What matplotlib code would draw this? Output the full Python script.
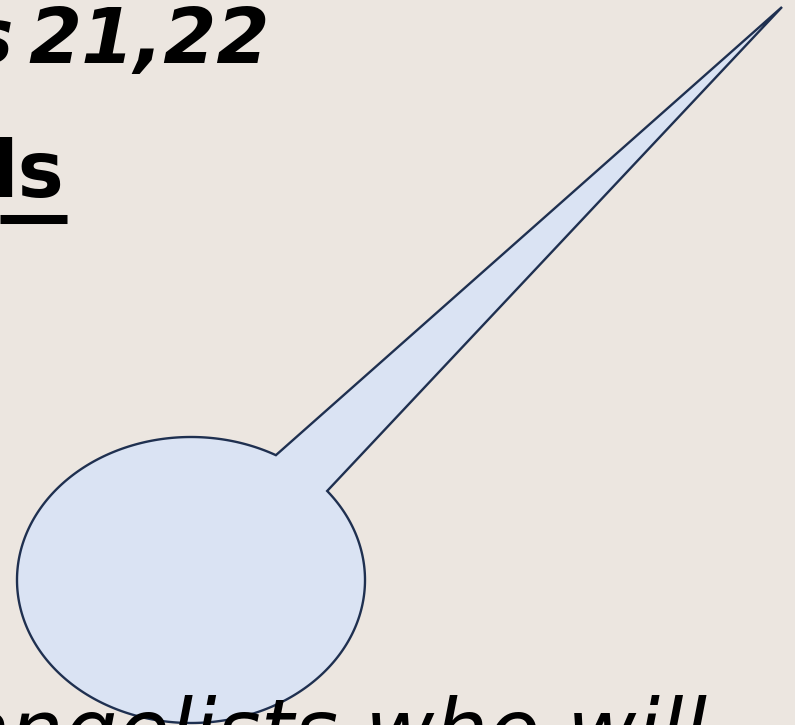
import numpy as np
import matplotlib
matplotlib.use("Agg")
import matplotlib.pyplot as plt
from matplotlib.path import Path
from matplotlib.patches import PathPatch

# Text fragments visible in the slide crop
title_words = ["s", "21,22"]
heading_fragment = "ls"
body_fragment = "angelists who will"

# Callout geometry (pixel space of the slide crop)
ellipse_center = (191, 580)
ellipse_radii = (174, 143)
tail_tip = (782, 7)
tail_angles_deg = (-38.5, 299.2)  # ellipse angles where the tail attaches

BG = "#ECE6E0"
FILL = "#DAE3F3"
EDGE = "#1F3050"

fig = plt.figure(figsize=(7.95, 7.25), dpi=100)
fig.patch.set_facecolor(BG)
ax = fig.add_axes([0, 0, 1, 1])
ax.set_xlim(0, 795)
ax.set_ylim(725, 0)
ax.axis("off")
ax.set_facecolor(BG)

# Speech-bubble callout
cx, cy = ellipse_center
a, b = ellipse_radii
t = np.radians(np.linspace(tail_angles_deg[0], tail_angles_deg[1], 400))
xs = cx + a * np.cos(t)
ys = cy + b * np.sin(t)
verts = list(zip(xs, ys)) + [tail_tip, (xs[0], ys[0])]
codes = [Path.MOVETO] + [Path.LINETO] * (len(verts) - 2) + [Path.CLOSEPOLY]
ax.add_patch(PathPatch(Path(verts, codes), facecolor=FILL, edgecolor=EDGE,
                       linewidth=1.7, joinstyle="miter", zorder=2))

# Title fragment (bold italic)
title_style = dict(va="baseline", fontsize=55, fontweight="bold",
                   fontstyle="italic", family="DejaVu Sans", color="black", zorder=3)
ax.text(13, 63, title_words[0], ha="right", **title_style)
ax.text(270, 63, title_words[1], ha="right", **title_style)

# Underlined heading fragment
ax.text(64, 197, heading_fragment, ha="right", va="baseline",
        fontsize=56, fontweight="bold", family="DejaVu Sans",
        color="black", zorder=3)
ax.plot([0, 67], [218.5, 218.5], color="black", linewidth=6.5,
        solid_capstyle="butt", zorder=3)

# Body text fragment (italic), cut by the bottom edge
ax.text(707, 760, body_fragment, ha="right", va="baseline",
        fontsize=61, fontstyle="italic", family="DejaVu Sans",
        color="black", zorder=4)

fig.savefig("out.png", dpi=100, facecolor=BG)
